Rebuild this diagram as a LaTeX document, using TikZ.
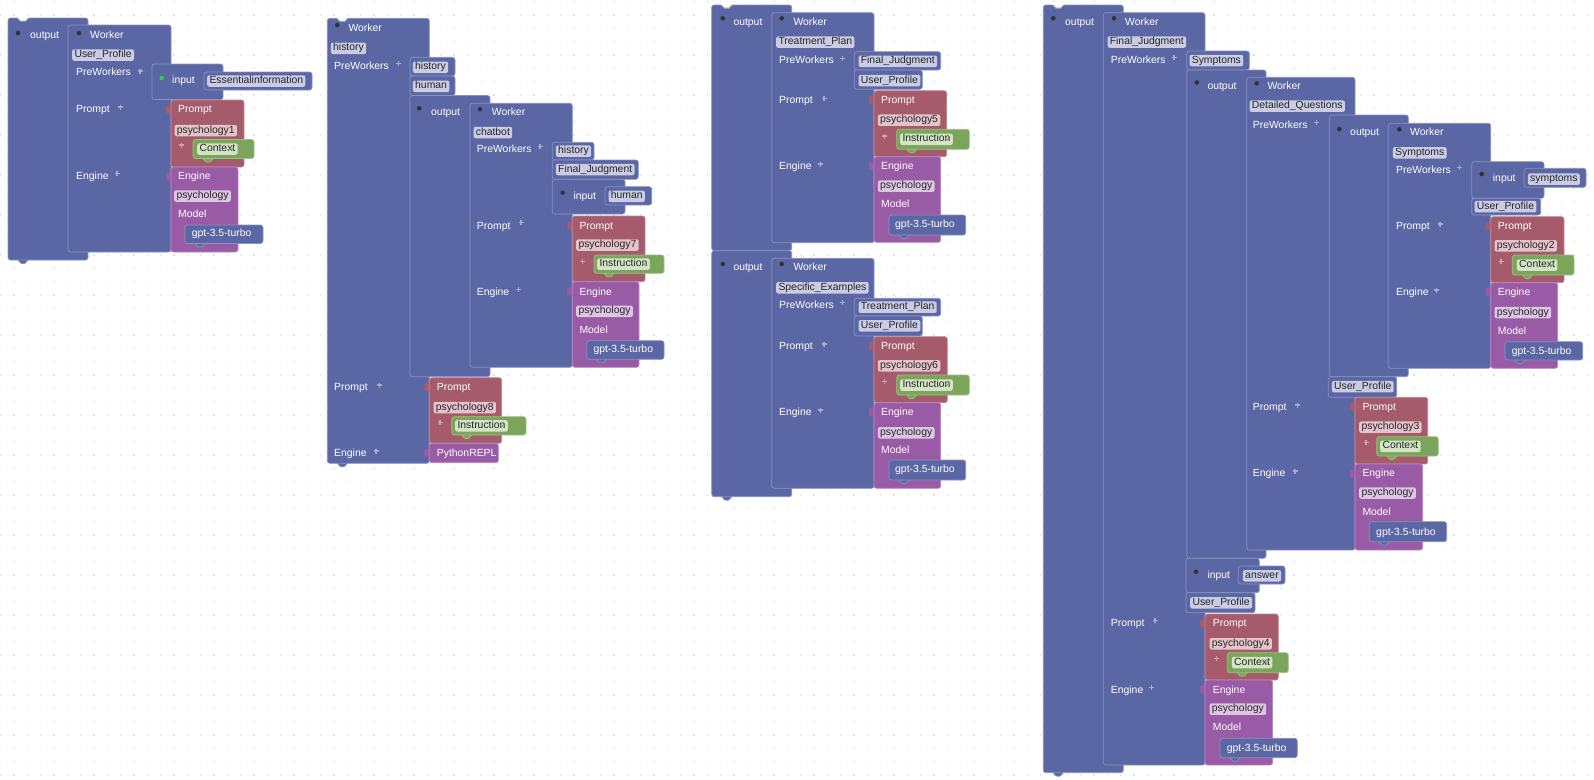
\documentclass[tikz,border=0pt]{standalone}
\usepackage{fontspec}
\setmainfont{Liberation Sans}
\definecolor{wblue}{HTML}{5B67A5}
\definecolor{wred}{HTML}{A55B6B}
\definecolor{wpurple}{HTML}{995BA5}
\definecolor{wgreen}{HTML}{7BA55B}
\definecolor{wlive}{HTML}{33CC44}
\definecolor{fblue}{HTML}{C9CCE4}
\definecolor{fred}{HTML}{E3C4CB}
\definecolor{fpurple}{HTML}{DDC6E3}
\definecolor{fgreen}{HTML}{D3E4C6}

\begin{document}
\begin{tikzpicture}[x=1pt, y=-1pt, font=\fontsize{10.4}{12}\selectfont,
  blk/.style={draw=#1!72!white, fill=#1, line width=0.7pt, rounded corners=2.5pt},
  fld/.style={fill=#1, rounded corners=2pt, text=black!85, inner xsep=2.3pt, inner ysep=0pt,
    minimum height=11.5pt, text height=7pt, text depth=2pt, anchor=west},
  lbl/.style={text=white, inner sep=0pt, anchor=west, text height=7pt, text depth=2pt},
  plus/.style={draw=white, line width=1.2pt, opacity=0.45},
  tri/.style={fill=wgreen!85!white},
  gdot/.style={draw=black!12, line width=1.3pt, dash pattern=on 1.3pt off 12.033pt}]
\newcommand{\blk}[3][wblue]{\draw[blk=#1] (#2) rectangle (#3);}
\newcommand{\tabb}[2][wblue]{\draw[blk=#1, rounded corners=0.8pt] (#2) ++(10,-1) -- ++(0,1) -- ++(3,3.5) -- ++(4,0) -- ++(3,-3.5) -- ++(0,-1) -- cycle;}
\newcommand{\notch}[1]{\fill[white] (#1) ++(9.5,-1) -- ++(0,1.4) -- ++(3,3) -- ++(5,0) -- ++(3,-3) -- ++(0,-1.4) -- cycle;
  \draw[wblue!72!white, line width=0.7pt] (#1) ++(9.5,0) -- ++(3,3) -- ++(5,0) -- ++(3,-3);}
\newcommand{\vtab}[2][wred]{\fill[#1] (#2) ++(1,5) -- ++(-6,1) -- ++(0,7) -- ++(6,1) -- cycle;}
\newcommand{\pls}[1]{\draw[plus] (#1) ++(-2.5,0) -- ++(5,0) (#1) ++(0,-2.5) -- ++(0,5);}
\newcommand{\dt}[2][black!80]{\fill[#1] (#2) circle (2.3);}
\newcommand{\ddfld}[3]{\node[fld=fgreen] (#1) at (#2) {#3\hspace{9pt}};
  \fill[tri] ([xshift=-8pt,yshift=1.2pt]#1.east) -- ++(4,0) -- ++(-2,3) -- cycle;}

\useasboundingbox (0,0) rectangle (1594,779);
\fill[white] (0,0) rectangle (1594,779);
\foreach \i in {0,...,58}
  \draw[gdot] (0,{1.67+13.333*\i}) -- (1594,{1.67+13.333*\i});

% output -> Worker User_Profile
\tabb{8,260}
\blk{8,18}{88,260}
\notch{8,18}
\blk{68,25}{171,252}
\blk{152,64}{223,99.5}
\blk{204,72}{312,90}
\vtab{171,100}
\blk[wred]{171,100}{244,167}
\tabb[wgreen]{193,158.5}
\blk[wgreen]{193,139.5}{254,158.5}
\vtab[wpurple]{171,167}
\blk[wpurple]{171,167}{238,252}
\tabb{185,243.5}
\blk{185,225}{263,243.5}

\dt{18,33} \node[lbl] (a-out) at (30,35.7) {output};
\dt{79,33} \node[lbl] (a-wk) at (90,35.7) {Worker};
\node[fld=fblue] (a-prof) at (72,55) {User\_Profile};
\node[lbl] (a-pre) at (76,73) {PreWorkers}; \pls{140,71}
\dt[wlive]{161.7,78} \node[lbl] (a-in) at (172,80.7) {input};
\node[fld=fblue] (a-ess) at (207,81) {Essentialinformation};
\node[lbl] (a-pr) at (76,110) {Prompt}; \pls{120.7,107}
\node[lbl] (a-prb) at (178,110) {Prompt};
\node[fld=fred] (a-psy) at (174.3,130.5) {psychology1};
\pls{181.7,145}
\ddfld{a-ctx}{197,149}{Context}
\node[lbl] (a-en) at (76,176.7) {Engine}; \pls{117,173.3}
\node[lbl] (a-enb) at (178,176.7) {Engine};
\node[fld=fpurple] (a-eng) at (174,196) {psychology};
\node[lbl] (a-mod) at (178,215) {Model};
\node[lbl] (a-gpt) at (191.7,234.3) {gpt-3.5-turbo};

% Worker history
\tabb{327.3,463.3}
\blk{327.3,18.3}{429.3,463.3}
\notch{327.3,18.3}
\blk{410,57.3}{455,76}
\blk{410,76}{455,95.5}
\blk{410,95.5}{490,376.7}
\blk{470,103.3}{572.3,367.3}
\blk{552.3,142.3}{594,160}
\blk{552.3,160}{638.3,179.3}
\blk{552.3,179.3}{625,214}
\blk{605,186.7}{651.7,205}
\vtab{572.3,216}
\blk[wred]{572.3,216}{645,281.7}
\tabb[wgreen]{594,273.3}
\blk[wgreen]{594,255}{664,273.3}
\vtab[wpurple]{572.3,281.7}
\blk[wpurple]{572.3,281.7}{639,367.3}
\tabb{586.7,359.3}
\blk{586.7,340.7}{664,359.3}
\vtab{429.3,377.7}
\blk[wred]{429.3,377.7}{501.7,443.3}
\tabb[wgreen]{451.7,435}
\blk[wgreen]{451.7,416.7}{526,435}
\vtab[wpurple]{429.3,443.3}
\blk[wpurple]{429.3,443.3}{498.3,462.7}

\dt{337.3,25} \node[lbl] (b-wk) at (348.3,29.3) {Worker};
\node[fld=fblue] (b-hist) at (330.7,48.3) {history};
\node[lbl] (b-pre) at (334,66.7) {PreWorkers}; \pls{398.3,63.3}
\node[fld=fblue] (b-h1) at (412.7,67.3) {history};
\node[fld=fblue] (b-h2) at (412.7,86.3) {human};
\dt{419.3,108.3} \node[lbl] (b-out) at (431,112.7) {output};
\dt{480,109.3} \node[lbl] (b-wk2) at (491.7,113.3) {Worker};
\node[fld=fblue] (b-chat) at (473.3,132.5) {chatbot};
\node[lbl] (b-pre2) at (476.7,150) {PreWorkers}; \pls{540,146.7}
\node[fld=fblue] (b-h3) at (555.7,151.2) {history};
\node[fld=fblue] (b-fj) at (555.7,169.5) {Final\_Judgment};
\dt{562.7,192.7} \node[lbl] (b-in) at (573.3,196.7) {input};
\node[fld=fblue] (b-hum) at (608.3,196.3) {human};
\node[lbl] (b-pr2) at (476.7,226.7) {Prompt}; \pls{521,222.7}
\node[lbl] (b-prb2) at (579.3,226.7) {Prompt};
\node[fld=fred] (b-psy7) at (576,245) {psychology7};
\pls{582.7,261.7}
\ddfld{b-ins7}{597,264.2}{Instruction}
\node[lbl] (b-en2) at (476.7,292.7) {Engine}; \pls{518.3,289.3}
\node[lbl] (b-enb2) at (579.3,292.7) {Engine};
\node[fld=fpurple] (b-eng2) at (576,311.3) {psychology};
\node[lbl] (b-mod2) at (579.3,331) {Model};
\node[lbl] (b-gpt2) at (593.3,350) {gpt-3.5-turbo};
\node[lbl] (b-pr) at (334,388.3) {Prompt}; \pls{379.3,385}
\node[lbl] (b-prb) at (436.7,388.3) {Prompt};
\node[fld=fred] (b-psy8) at (433.3,407.5) {psychology8};
\pls{440,422.7}
\ddfld{b-ins8}{455,425.8}{Instruction}
\node[lbl] (b-en) at (334,454) {Engine}; \pls{376,451}
\node[lbl] (b-repl) at (436.7,453.5) {PythonREPL};

% output -> Treatment_Plan, Specific_Examples
\blk{711.7,5}{791.7,250.7}
\notch{711.7,5}
\tabb{711.7,496.7}
\blk{711.7,250.7}{791.7,496.7}
\blk{771.7,12.7}{874,242.7}
\blk{854.3,51.7}{940.7,70}
\blk{854.3,70}{922.3,89.3}
\vtab{874,90.7}
\blk[wred]{874,90.7}{946.7,156.7}
\tabb[wgreen]{896.7,149.3}
\blk[wgreen]{896.7,129.3}{969.3,149.3}
\vtab[wpurple]{874,156.7}
\blk[wpurple]{874,156.7}{940.7,242.3}
\tabb{889,235}
\blk{889,215}{965.7,235}
\blk{771.7,258.3}{874,488.3}
\blk{854.3,298.3}{940.7,316}
\blk{854.3,316}{922.3,336}
\vtab{874,336.7}
\blk[wred]{874,336.7}{947.3,402.7}
\tabb[wgreen]{896.7,395}
\blk[wgreen]{896.7,375}{969.3,395}
\vtab[wpurple]{874,402.7}
\blk[wpurple]{874,402.7}{940.7,488.3}
\tabb{889,480}
\blk{889,460}{965.7,480}

\dt{722.7,18.3} \node[lbl] (c-out1) at (733.3,22.7) {output};
\dt{781.7,18.3} \node[lbl] (c-wk1) at (793.3,22.7) {Worker};
\node[fld=fblue] (c-tp) at (776,42.2) {Treatment\_Plan};
\node[lbl] (c-pre1) at (779,60.7) {PreWorkers}; \pls{842.7,58.3}
\node[fld=fblue] (c-fj) at (858.3,61.3) {Final\_Judgment};
\node[fld=fblue] (c-up1) at (858.3,80.5) {User\_Profile};
\node[lbl] (c-pr1) at (779,100.7) {Prompt}; \pls{824,98.3}
\node[lbl] (c-prb1) at (881,100.7) {Prompt};
\node[fld=fred] (c-psy5) at (877.7,120.2) {psychology5};
\pls{884.3,136}
\ddfld{c-ins5}{900,139.3}{Instruction}
\node[lbl] (c-en1) at (779,166.7) {Engine}; \pls{820.7,164}
\node[lbl] (c-enb1) at (881,166.7) {Engine};
\node[fld=fpurple] (c-eng1) at (877.7,186.2) {psychology};
\node[lbl] (c-mod1) at (881,205) {Model};
\node[lbl] (c-gpt1) at (895,225.3) {gpt-3.5-turbo};
\dt{722.7,264} \node[lbl] (c-out2) at (733.3,268.3) {output};
\dt{781.7,264} \node[lbl] (c-wk2) at (793.3,268.3) {Worker};
\node[fld=fblue] (c-se) at (776,287.8) {Specific\_Examples};
\node[lbl] (c-pre2) at (779,306) {PreWorkers}; \pls{842.7,302.7}
\node[fld=fblue] (c-tp2) at (858.3,307.2) {Treatment\_Plan};
\node[fld=fblue] (c-up2) at (858.3,325.8) {User\_Profile};
\node[lbl] (c-pr2) at (779,347.3) {Prompt}; \pls{824,344}
\node[lbl] (c-prb2) at (881,347.3) {Prompt};
\node[fld=fred] (c-psy6) at (877.7,365.8) {psychology6};
\pls{884.3,381.7}
\ddfld{c-ins6}{900,385}{Instruction}
\node[lbl] (c-en2) at (779,413.3) {Engine}; \pls{820.7,410}
\node[lbl] (c-enb2) at (881,413.3) {Engine};
\node[fld=fpurple] (c-eng2) at (877.7,432.8) {psychology};
\node[lbl] (c-mod2) at (881,451) {Model};
\node[lbl] (c-gpt2) at (895,470) {gpt-3.5-turbo};

% output -> Worker Final_Judgment
\tabb{1043.3,772.7}
\blk{1043.3,5}{1123.3,772.7}
\notch{1043.3,5}
\blk{1103.3,12.7}{1205,765}
\blk{1186.7,51}{1249.3,70}
\blk{1186.7,70}{1266,558.3}
\blk{1246.7,77.3}{1355,550}
\blk{1329.3,115}{1408.3,376.7}
\blk{1388.3,123.3}{1490.7,368.3}
\blk{1471.7,161.7}{1544,198.3}
\blk{1524,168.3}{1586,187.3}
\blk{1471.7,198.3}{1540.7,215}
\vtab{1490.7,216.7}
\blk[wred]{1490.7,216.7}{1564,282.7}
\tabb[wgreen]{1512.3,275}
\blk[wgreen]{1512.3,255}{1574,275}
\vtab[wpurple]{1490.7,282.7}
\blk[wpurple]{1490.7,282.7}{1557.7,368.3}
\tabb{1505,360}
\blk{1505,341.7}{1582.7,360}
\blk{1328.3,376.7}{1396.7,397.3}
\vtab{1355,397.3}
\blk[wred]{1355,397.3}{1427.7,464}
\tabb[wgreen]{1376.7,456}
\blk[wgreen]{1376.7,436.7}{1438.3,456}
\vtab[wpurple]{1355,464}
\blk[wpurple]{1355,464}{1422.7,550}
\tabb{1369.3,541.7}
\blk{1369.3,521.7}{1446.7,541.7}
\blk{1186,558.3}{1259.3,592.7}
\blk{1238.3,566}{1285,584}
\blk{1186,592.7}{1255,612.7}
\vtab{1205,614}
\blk[wred]{1205,614}{1278.3,680}
\tabb[wgreen]{1227.3,672.7}
\blk[wgreen]{1227.3,652.7}{1288.3,672.7}
\vtab[wpurple]{1205,680}
\blk[wpurple]{1205,680}{1272.7,765}
\tabb{1220,757.7}
\blk{1220,738.3}{1297.3,757.7}

\dt{1053.3,18.3} \node[lbl] (d-out) at (1065,22.7) {output};
\dt{1114,18.3} \node[lbl] (d-wk) at (1125,22.7) {Worker};
\node[fld=fblue] (d-fj) at (1107.3,42) {Final\_Judgment};
\node[lbl] (d-pre) at (1110.7,60.7) {PreWorkers}; \pls{1174,57.3}
\node[fld=fblue] (d-sym) at (1189.3,60.5) {Symptoms};
\dt{1196.7,82.5} \node[lbl] (d-out1) at (1207.3,86.7) {output};
\dt{1256.7,83.3} \node[lbl] (d-wk1) at (1267.3,87.3) {Worker};
\node[fld=fblue] (d-dq) at (1249.3,106.2) {Detailed\_Questions};
\node[lbl] (d-pre1) at (1252.7,125.7) {PreWorkers}; \pls{1316.7,122.3}
\dt{1339.3,129} \node[lbl] (d-out2) at (1350,132.7) {output};
\dt{1399.3,129.3} \node[lbl] (d-wk2) at (1410,133.3) {Worker};
\node[fld=fblue] (d-sym2) at (1392.7,152.8) {Symptoms};
\node[lbl] (d-pre2) at (1396,171) {PreWorkers}; \pls{1459.3,167.7}
\dt{1481.7,174} \node[lbl] (d-in1) at (1492.7,178.7) {input};
\node[fld=fblue] (d-sy) at (1527.7,179.2) {symptoms};
\node[fld=fblue] (d-up2) at (1474.3,206.7) {User\_Profile};
\node[lbl] (d-pr2) at (1396,227.3) {Prompt}; \pls{1440,224}
\node[lbl] (d-prb2) at (1497.7,227.3) {Prompt};
\node[fld=fred] (d-psy2) at (1494.3,245.8) {psychology2};
\pls{1501,261.7}
\ddfld{d-ctx2}{1516.7,265}{Context}
\node[lbl] (d-en2) at (1396,293.3) {Engine}; \pls{1436.7,290}
\node[lbl] (d-enb2) at (1497.7,293.3) {Engine};
\node[fld=fpurple] (d-eng2) at (1494.3,312.5) {psychology};
\node[lbl] (d-mod2) at (1497.7,331.7) {Model};
\node[lbl] (d-gpt2) at (1511.7,351.7) {gpt-3.5-turbo};
\node[fld=fblue] (d-up1) at (1331.7,386.7) {User\_Profile};
\node[lbl] (d-pr1) at (1252.7,408.3) {Prompt}; \pls{1297.3,405}
\node[lbl] (d-prb1) at (1362.3,408.3) {Prompt};
\node[fld=fred] (d-psy3) at (1359,427.2) {psychology3};
\pls{1366,442.7}
\ddfld{d-ctx3}{1380,446.3}{Context}
\node[lbl] (d-en1) at (1252.7,474.3) {Engine}; \pls{1295,471}
\node[lbl] (d-enb1) at (1362.3,474.3) {Engine};
\node[fld=fpurple] (d-eng1) at (1359,493) {psychology};
\node[lbl] (d-mod1) at (1362.3,512.7) {Model};
\node[lbl] (d-gpt1) at (1376,532.7) {gpt-3.5-turbo};
\dt{1196,571.7} \node[lbl] (d-in) at (1207.3,575.7) {input};
\node[fld=fblue] (d-ans) at (1242.7,575.8) {answer};
\node[fld=fblue] (d-up) at (1190,602.8) {User\_Profile};
\node[lbl] (d-pr) at (1110.7,624.3) {Prompt}; \pls{1155,620.7}
\node[lbl] (d-prb) at (1212.7,624.3) {Prompt};
\node[fld=fred] (d-psy4) at (1209.3,643.8) {psychology4};
\pls{1216.7,658.3}
\ddfld{d-ctx4}{1231.7,662.5}{Context}
\node[lbl] (d-en) at (1110.7,690.7) {Engine}; \pls{1151.7,687.3}
\node[lbl] (d-enb) at (1212.7,690.7) {Engine};
\node[fld=fpurple] (d-eng) at (1209.3,709.2) {psychology};
\node[lbl] (d-mod) at (1212.7,728.3) {Model};
\node[lbl] (d-gpt) at (1226.7,749) {gpt-3.5-turbo};
\end{tikzpicture}
\end{document}
